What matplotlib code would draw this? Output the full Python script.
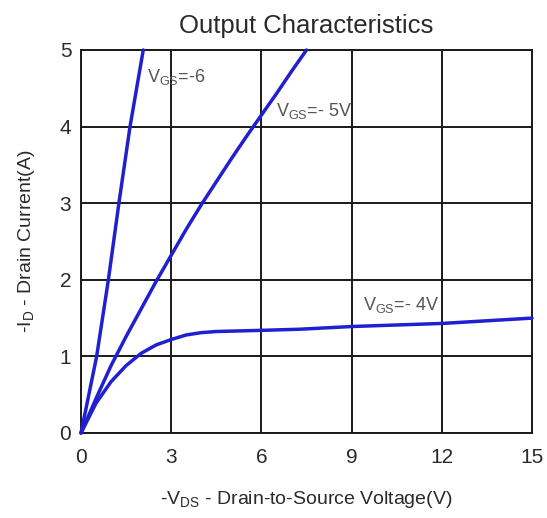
#!/usr/bin/env python3
"""Output characteristics of a P-channel MOSFET (-ID vs -VDS)."""

import matplotlib
matplotlib.use("Agg")
import matplotlib.pyplot as plt

plt.rcParams["font.family"] = ["Liberation Sans", "DejaVu Sans"]
plt.rcParams["mathtext.fontset"] = "custom"
plt.rcParams["mathtext.rm"] = "Liberation Sans"
plt.rcParams["mathtext.it"] = "Liberation Sans"

# ─── DATA ────────────────────────────────────────────────────────────────────

vds_6 = [0.0, 0.52, 0.91, 1.26, 1.63, 2.07]
id_6 = [0.0, 1.0, 2.0, 3.0, 4.0, 5.0]

vds_5 = [0.0, 0.5, 1.0, 1.5, 2.0, 2.5, 3.0, 3.5, 4.0, 4.5, 5.0, 5.5, 6.0, 6.5, 7.0, 7.5]
id_5 = [0.0, 0.45, 0.88, 1.26, 1.62, 1.98, 2.32, 2.66, 2.98, 3.28, 3.58, 3.87, 4.15, 4.43, 4.72, 5.0]

vds_4 = [0.0, 0.5, 1.0, 1.5, 2.0, 2.5, 3.0, 3.5, 4.0, 4.5, 5.0, 6.0, 7.3, 9.0, 12.0, 15.0]
id_4 = [0.0, 0.39, 0.67, 0.88, 1.04, 1.15, 1.22, 1.28, 1.31, 1.325, 1.33, 1.34, 1.355, 1.39, 1.43, 1.5]

labels = [r"V$_{GS}$=-6", r"V$_{GS}$=- 5V", r"V$_{GS}$=- 4V"]
label_pos = [(2.18, 4.65), (6.49, 4.21), (9.39, 1.67)]

x_ticks = [0, 3, 6, 9, 12, 15]
y_ticks = [0, 1, 2, 3, 4, 5]

# ─── STYLE ───────────────────────────────────────────────────────────────────

LINE_CLR = "#2020d0"
TEXT_CLR = "#2a2a2a"
LABEL_CLR = "#555555"
GRID_CLR = "#1a1a1a"

fig = plt.figure(figsize=(5.47, 5.18), dpi=100)
fig.patch.set_facecolor("white")
ax = fig.add_axes([0.1481, 0.1641, 0.8245, 0.7394])

for vx, iy in [(vds_6, id_6), (vds_5, id_5), (vds_4, id_4)]:
    ax.plot(vx, iy, color=LINE_CLR, linewidth=2.5, solid_capstyle="round",
            solid_joinstyle="round", zorder=3, clip_on=False)

for text, (tx, ty) in zip(labels, label_pos):
    ax.text(tx, ty, text, fontsize=13, color=LABEL_CLR, ha="left",
            va="center", zorder=4)

ax.set_xlim(0, 15)
ax.set_ylim(0, 5)
ax.set_xticks(x_ticks)
ax.set_yticks(y_ticks)
ax.grid(True, color=GRID_CLR, linewidth=1.4)
ax.set_axisbelow(True)
for sp in ax.spines.values():
    sp.set_color(GRID_CLR)
    sp.set_linewidth(1.4)
ax.tick_params(axis="both", length=0, labelsize=15, labelcolor=TEXT_CLR)
ax.tick_params(axis="x", pad=11)
ax.tick_params(axis="y", pad=7)

ax.set_title("Output Characteristics", fontsize=18.5, color=TEXT_CLR, pad=12)
ax.set_xlabel(r"-V$_{DS}$ - Drain-to-Source Voltage(V)", fontsize=14,
              color=TEXT_CLR, labelpad=16)
ax.set_ylabel(r"-I$_{D}$ - Drain Current(A)", fontsize=14,
              color=TEXT_CLR, labelpad=16)

fig.savefig("out.png", dpi=100, facecolor="white")
plt.close(fig)
